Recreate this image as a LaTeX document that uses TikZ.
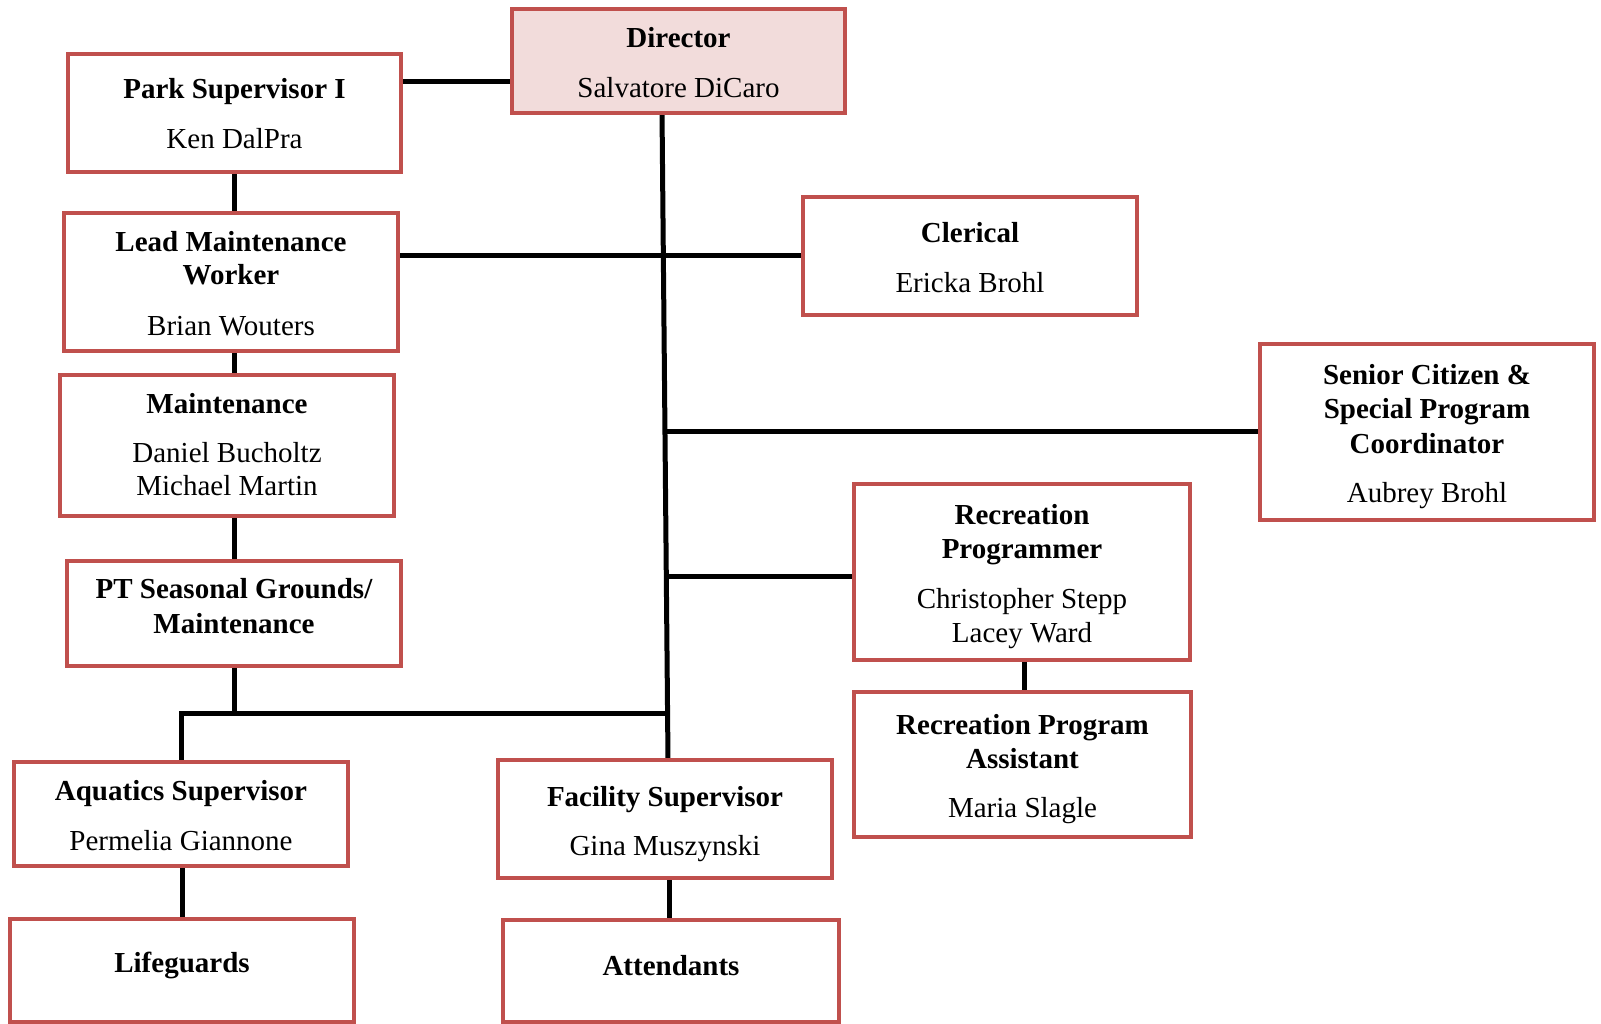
\documentclass[tikz,border=0pt]{standalone}
\usepackage{fontspec}
\setmainfont{Liberation Serif}
\usetikzlibrary{calc,backgrounds}
\definecolor{boxred}{RGB}{192,80,77}
\definecolor{dirfill}{RGB}{242,220,219}
\begin{document}
\begin{tikzpicture}[x=1pt,y=-1pt,
  box/.style={draw=boxred, line width=4pt, fill=white, rectangle, inner sep=0pt},
  conn/.style={line width=5pt, black},
  ttl/.style={anchor=base, inner sep=0pt, font=\fontsize{29}{33}\selectfont\bfseries},
  nm/.style={anchor=base, inner sep=0pt, font=\fontsize{29}{33}\selectfont}]
\useasboundingbox (0,0) rectangle (1601,1024);

% boxes
\node[box, fill=dirfill, minimum width=333pt, minimum height=104pt] (dir) at (678.5,61) {};
\node[box, minimum width=333pt, minimum height=118pt] (ps1) at (234.5,113) {};
\node[box, minimum width=334pt, minimum height=138pt] (lmw) at (231,282) {};
\node[box, minimum width=334pt, minimum height=141pt] (mnt) at (227,445.5) {};
\node[box, minimum width=334pt, minimum height=105pt] (pts) at (234,613.5) {};
\node[box, minimum width=334pt, minimum height=104pt] (aqs) at (181,814) {};
\node[box, minimum width=344pt, minimum height=103pt] (lfg) at (182,970.5) {};
\node[box, minimum width=334pt, minimum height=118pt] (fac) at (665,819) {};
\node[box, minimum width=336pt, minimum height=102pt] (att) at (671,971) {};
\node[box, minimum width=334pt, minimum height=118pt] (cler) at (970,256) {};
\node[box, minimum width=334pt, minimum height=176pt] (sen) at (1427,432) {};
\node[box, minimum width=336pt, minimum height=176pt] (rp) at (1022,572) {};
\node[box, minimum width=337pt, minimum height=145pt] (rpa) at (1022.5,764.5) {};

% texts
\node[ttl] (dir-t) at (678.5,48) {Director};
\node[nm]  (dir-n) at (678.5,98) {Salvatore DiCaro};
\node[ttl] (ps1-t) at (234.5,99) {Park Supervisor I};
\node[nm]  (ps1-n) at (234.5,149) {Ken DalPra};
\node[ttl] (lmw-t1) at (231,252) {Lead Maintenance};
\node[ttl] (lmw-t2) at (231,285) {Worker};
\node[nm]  (lmw-n) at (231,335) {Brian Wouters};
\node[ttl] (mnt-t) at (227,413) {Maintenance};
\node[nm]  (mnt-n1) at (227,462) {Daniel Bucholtz};
\node[nm]  (mnt-n2) at (227,495) {Michael Martin};
\node[ttl] (pts-t1) at (234,598) {PT Seasonal Grounds/};
\node[ttl] (pts-t2) at (234,633) {Maintenance};
\node[ttl] (aqs-t) at (181,800) {Aquatics Supervisor};
\node[nm]  (aqs-n) at (181,850) {Permelia Giannone};
\node[ttl] (lfg-t) at (182,972) {Lifeguards};
\node[ttl] (fac-t) at (665,806) {Facility Supervisor};
\node[nm]  (fac-n) at (665,855) {Gina Muszynski};
\node[ttl] (att-t) at (671,975) {Attendants};
\node[ttl] (cler-t) at (970,243) {Clerical};
\node[nm]  (cler-n) at (970,293) {Ericka Brohl};
\node[ttl] (sen-t1) at (1427,384) {Senior Citizen \&};
\node[ttl] (sen-t2) at (1427,418) {Special Program};
\node[ttl] (sen-t3) at (1427,453) {Coordinator};
\node[nm]  (sen-n) at (1427,502) {Aubrey Brohl};
\node[ttl] (rp-t1) at (1022,524) {Recreation};
\node[ttl] (rp-t2) at (1022,558) {Programmer};
\node[nm]  (rp-n1) at (1022,608) {Christopher Stepp};
\node[nm]  (rp-n2) at (1022,642) {Lacey Ward};
\node[ttl] (rpa-t1) at (1022.5,734) {Recreation Program};
\node[ttl] (rpa-t2) at (1022.5,768) {Assistant};
\node[nm]  (rpa-n) at (1022.5,817) {Maria Slagle};

% helper coordinates
\coordinate (yA) at (0,82);
\coordinate (colL) at (234,0);
\coordinate (tTop) at (662,111);
\coordinate (tBot) at (668,760);
\coordinate (jSen) at (664.9,431);
\coordinate (jRp) at (666.3,576);
\coordinate (jBot) at (667.6,713);
\coordinate (colA) at (182,0);
\coordinate (colF) at (669,0);
\coordinate (colR) at (1024,0);

\begin{scope}[on background layer]
\draw[conn] (ps1.east |- yA) -- (dir.west |- yA);
\draw[conn] (tTop) -- (tBot);
\draw[conn] (lmw.east |- cler.west) -- (cler.west);
\draw[conn] (jSen) -- (sen.west |- jSen);
\draw[conn] (jRp) -- (rp.west |- jRp);
\draw[conn] (colL |- ps1.south) -- (colL |- lmw.north);
\draw[conn] (colL |- lmw.south) -- (colL |- mnt.north);
\draw[conn] (colL |- mnt.south) -- (colL |- pts.north);
\draw[conn] (colL |- pts.south) -- (colL |- jBot);
\draw[conn] (aqs.north) |- (jBot);
\draw[conn] (colA |- aqs.south) -- (colA |- lfg.north);
\draw[conn] (colF |- fac.south) -- (colF |- att.north);
\draw[conn] (colR |- rp.south) -- (colR |- rpa.north);
\end{scope}
\end{tikzpicture}
\end{document}
